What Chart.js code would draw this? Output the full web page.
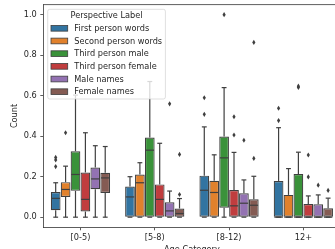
<!DOCTYPE html>
<html>
<head>
<meta charset="utf-8">
<script src="https://cdn.jsdelivr.net/npm/chart.js@4.4.1/dist/chart.umd.min.js"></script>
<style>
  html, body { margin: 0; padding: 0; overflow: hidden; background: #fff; }
</style>
</head>
<body>
<canvas id="boxChart" width="345" height="262"></canvas>
<script>
// categories and series
const categories = ['[0-5)', '[5-8)', '[8-12)', '12+'];
const seriesNames = ['First person words', 'Second person words', 'Third person male',
  'Third person female', 'Male names', 'Female names'];
const yTicks = [0, 0.2, 0.4, 0.6, 0.8, 1.0];

// box stats, one row per series, one column per category
const q1 = [
  [0.034, 0, 0, 0],
  [0.100, 0, 0, 0],
  [0.130, 0, 0.047, 0],
  [0.028, 0, 0, 0],
  [0.138, 0, 0, 0],
  [0.120, 0, 0, 0]
];
const median = [
  [0.093, 0.100, 0.133, 0],
  [0.137, 0.170, 0.122, 0],
  [0.211, 0.331, 0.293, 0],
  [0.088, 0.088, 0.056, 0],
  [0.189, 0.031, 0.069, 0],
  [0.194, 0.018, 0.059, 0]
];
const q3 = [
  [0.124, 0.151, 0.205, 0.179],
  [0.173, 0.211, 0.180, 0.110],
  [0.326, 0.393, 0.398, 0.213],
  [0.221, 0.162, 0.134, 0.065],
  [0.245, 0.074, 0.118, 0.064],
  [0.219, 0.043, 0.088, 0.044]
];
const whiskerLo = [
  [0, 0, 0, 0],
  [0, 0, 0, 0],
  [0, 0, 0, 0],
  [0, 0, 0, 0],
  [0, 0, 0, 0],
  [0, 0, 0, 0]
];
const whiskerHi = [
  [0.170, 0.200, 0.446, 0.442],
  [0.252, 0.269, 0.308, 0.240],
  [0.603, 0.670, 0.640, 0.321],
  [0.417, 0.365, 0.320, 0.105],
  [0.353, 0.129, 0.184, 0.110],
  [0.349, 0.092, 0.202, 0.094]
];
const outliers = [
  [[0.250, 0.283, 0.295], [], [0.508, 0.590], [0.477, 0.538]],
  [[0.417], [], [], []],
  [[], [], [1.0], [0.641, 0.647]],
  [[], [], [0.406, 0.496], [0.199, 0.307]],
  [[], [0.560], [0.380], [0.158]],
  [[], [0.112, 0.310], [0.290, 0.863], [0.132]]
];

const boxColors = ['#3274a1', '#e1812c', '#3a923a', '#c03d3e', '#9372b2', '#845b53'];
const edgeColor = '#3f3f3f';
const textColor = '#262626';
const fontSize = 8.2;

Chart.defaults.font.family = '"DejaVu Sans", sans-serif';
Chart.defaults.font.size = fontSize;
Chart.defaults.color = textColor;

// whiskers, medians and fliers on top of the floating bars
const boxPlotLines = {
  id: 'boxPlotLines',
  afterDatasetsDraw(chart) {
    const ctx = chart.ctx;
    const y = chart.scales.y;
    const seg = (x1, y1, x2, y2) => {
      ctx.beginPath(); ctx.moveTo(x1, y1); ctx.lineTo(x2, y2); ctx.stroke();
    };
    ctx.save();
    ctx.strokeStyle = edgeColor;
    ctx.fillStyle = edgeColor;
    ctx.lineWidth = 1.2;
    chart.data.datasets.forEach((ds, i) => {
      chart.getDatasetMeta(i).data.forEach((bar, j) => {
        const cx = bar.x, half = bar.width / 2, cap = bar.width / 4;
        const pLo = y.getPixelForValue(whiskerLo[i][j]);
        const pHi = y.getPixelForValue(whiskerHi[i][j]);
        const pQ1 = y.getPixelForValue(q1[i][j]);
        const pQ3 = y.getPixelForValue(q3[i][j]);
        const pMed = y.getPixelForValue(median[i][j]);
        seg(cx, pQ3, cx, pHi);
        seg(cx - cap, pHi, cx + cap, pHi);
        seg(cx, pQ1, cx, pLo);
        seg(cx - cap, pLo, cx + cap, pLo);
        seg(cx - half + 0.6, pMed, cx + half - 0.6, pMed);
        outliers[i][j].forEach(v => {
          const py = y.getPixelForValue(v);
          ctx.beginPath();
          ctx.moveTo(cx, py - 2.6);
          ctx.lineTo(cx + 1.6, py);
          ctx.lineTo(cx, py + 2.6);
          ctx.lineTo(cx - 1.6, py);
          ctx.closePath();
          ctx.fill();
        });
      });
    });
    ctx.restore();
  }
};

// top and right spines, which chart.js does not draw
const topSpine = {
  id: 'topSpine',
  afterDraw(chart) {
    const a = chart.chartArea, ctx = chart.ctx;
    ctx.save();
    ctx.strokeStyle = '#333';
    ctx.lineWidth = 0.8;
    ctx.beginPath();
    ctx.moveTo(a.left, a.top);
    ctx.lineTo(a.right, a.top);
    ctx.lineTo(a.right, a.bottom);
    ctx.stroke();
    ctx.restore();
  }
};

// matplotlib-like legend in the upper left corner
const boxLegend = {
  id: 'boxLegend',
  afterDraw(chart) {
    const ctx = chart.ctx, a = chart.chartArea;
    ctx.save();
    ctx.font = fontSize + 'px "DejaVu Sans"';
    const x0 = a.left + 4.4, y0 = a.top + 4.7;
    const textW = Math.max(...seriesNames.map(n => ctx.measureText(n).width));
    const w = 3.3 + 16.7 + 6.6 + textW + 3.3;
    const h = 89.7;
    ctx.beginPath();
    ctx.roundRect(x0, y0, w, h, 2);
    ctx.fillStyle = 'rgba(255,255,255,0.8)';
    ctx.fill();
    ctx.strokeStyle = 'rgba(204,204,204,0.8)';
    ctx.lineWidth = 0.8;
    ctx.stroke();

    ctx.fillStyle = textColor;
    ctx.textAlign = 'center';
    ctx.textBaseline = 'middle';
    ctx.fillText('Perspective Label', x0 + w / 2, y0 + 6.4);

    ctx.textAlign = 'left';
    seriesNames.forEach((name, k) => {
      const ry = y0 + 19 + k * 12.68;
      ctx.fillStyle = boxColors[k];
      ctx.fillRect(x0 + 3.3, ry - 2.85, 16.7, 5.7);
      ctx.strokeStyle = edgeColor;
      ctx.lineWidth = 0.8;
      ctx.strokeRect(x0 + 3.3, ry - 2.85, 16.7, 5.7);
      ctx.fillStyle = textColor;
      ctx.fillText(name, x0 + 26.6, ry + 0.5);
    });
    ctx.restore();
  }
};

const boxData = {
  labels: categories,
  datasets: seriesNames.map((name, i) => ({
    label: name,
    data: categories.map((c, j) => [q1[i][j], q3[i][j]]),
    backgroundColor: boxColors[i],
    borderColor: edgeColor,
    borderWidth: 1.2,
    borderSkipped: false,
    categoryPercentage: 0.8,
    barPercentage: 0.98
  }))
};

new Chart(document.getElementById('boxChart').getContext('2d'), {
  type: 'bar',
  data: boxData,
  options: {
    responsive: false,
    devicePixelRatio: 1,
    animation: false,
    layout: { padding: { left: 0, top: 4.6, right: 4.5, bottom: 0 } },
    plugins: {
      legend: { display: false },
      tooltip: { enabled: false }
    },
    scales: {
      x: {
        grid: { offset: false, drawOnChartArea: false, drawTicks: true, tickLength: 3, tickColor: '#333', tickWidth: 0.8 },
        border: { color: '#333', width: 0.8 },
        ticks: { padding: 3, color: textColor },
        title: { display: true, text: 'Age Category', color: textColor, padding: { top: 0, bottom: 7 } },
        afterFit: s => { s.height = 34.7; s.paddingLeft = 0; s.paddingRight = 0; }
      },
      y: {
        min: -0.05,
        max: 1.05,
        grid: { drawOnChartArea: false, drawTicks: true, tickLength: 3, tickColor: '#333', tickWidth: 0.8 },
        border: { color: '#333', width: 0.8 },
        ticks: { padding: 3.5, color: textColor, callback: v => v.toFixed(1) },
        afterBuildTicks: s => { s.ticks = yTicks.map(v => ({ value: v })); },
        title: { display: true, text: 'Count', color: textColor, padding: { top: 10, bottom: 0 } },
        afterFit: s => { s.width = 43.3; s.paddingTop = 0; s.paddingBottom = 0; }
      }
    }
  },
  plugins: [boxPlotLines, topSpine, boxLegend]
});
</script>
</body>
</html>
